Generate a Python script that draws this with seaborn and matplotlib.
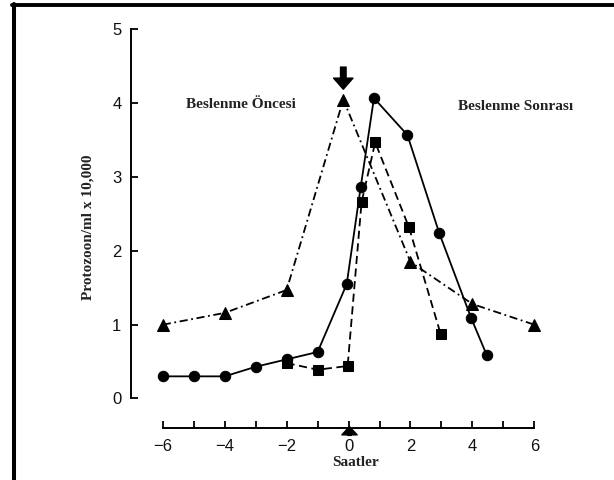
import pandas as pd
import matplotlib.pyplot as plt
from matplotlib.lines import Line2D
import seaborn as sns

# hours relative to feeding, protozoa per ml x 10,000
tri_x = [-6, -4, -2, -0.17, 2, 4, 6]
tri_y = [1.0, 1.16, 1.47, 4.05, 1.85, 1.28, 1.0]

circ_x = [-6, -5, -4, -3, -2, -1, -0.06, 0.39, 0.82, 1.9, 2.93, 3.96, 4.46]
circ_y = [0.3, 0.3, 0.3, 0.43, 0.53, 0.63, 1.55, 2.86, 4.07, 3.57, 2.24, 1.09, 0.59]

sq_x = [-2, -1, -0.03, 0.42, 0.86, 1.95, 2.97]
sq_y = [0.48, 0.39, 0.44, 2.66, 3.47, 2.32, 0.88]

x_ticks = list(range(-6, 7))
x_labels = ["\u22126", "", "\u22124", "", "\u22122", "", "0", "", "2", "", "4", "", "6"]
y_ticks = [0, 1, 2, 3, 4, 5]

label_pre = "Beslenme Öncesi"
label_post = "Beslenme Sonrası"
x_title = "Saatler"
y_title = "Protozoon/ml x 10,000"


def main():
    sns.set_style("white")
    plt.rcParams["font.family"] = ["Liberation Sans", "DejaVu Sans"]

    fig = plt.figure(figsize=(6.14, 4.8), dpi=100)
    ax = fig.add_axes([0.2137, 0.1083, 0.7322, 0.838])

    tri = pd.DataFrame({"x": tri_x, "y": tri_y})
    circ = pd.DataFrame({"x": circ_x, "y": circ_y})
    sq = pd.DataFrame({"x": sq_x, "y": sq_y})

    sns.lineplot(data=tri, x="x", y="y", ax=ax, sort=False, estimator=None,
                 color="black", lw=1.3, linestyle=(0, (4.5, 2, 1, 2)),
                 marker="^", ms=8.5, mec="black", mfc="black")
    sns.lineplot(data=sq, x="x", y="y", ax=ax, sort=False, estimator=None,
                 color="black", lw=1.3, linestyle=(0, (4.5, 2.5)),
                 marker="s", ms=7, mec="black", mfc="black")
    sns.lineplot(data=circ, x="x", y="y", ax=ax, sort=False, estimator=None,
                 color="black", lw=1.3, linestyle="-",
                 marker="o", ms=7.5, mec="black", mfc="black")

    ax.set_xlim(-7.02, 7.5)
    ax.set_ylim(-0.4, 5.05)
    ax.spines["top"].set_visible(False)
    ax.spines["right"].set_visible(False)
    ax.spines["left"].set_bounds(0, 5)
    ax.spines["bottom"].set_bounds(-6, 6)
    for s in ("left", "bottom"):
        ax.spines[s].set_linewidth(1.4)
        ax.spines[s].set_color("black")

    ax.set_xticks(x_ticks)
    ax.set_xticklabels(x_labels)
    ax.set_yticks(y_ticks)
    ax.tick_params(axis="both", which="major", bottom=True, left=True,
                   direction="in", length=5, width=1.3,
                   color="black", labelsize=12, labelcolor="#111111")
    ax.tick_params(axis="x", pad=8)
    ax.tick_params(axis="y", pad=7)

    serif = dict(family=["Liberation Serif", "DejaVu Serif"], weight="bold",
                 size=11, color="#222222")
    ax.set_xlabel(x_title, labelpad=1, **serif)
    ax.set_ylabel(y_title, labelpad=13, **serif)

    ax.text(-3.47, 3.98, label_pre, ha="center", va="center", **serif)
    ax.text(5.4, 3.95, label_post, ha="center", va="center", **serif)

    # feeding markers
    ax.annotate("", xy=(-0.17, 4.19), xytext=(-0.17, 4.49),
                arrowprops=dict(facecolor="black", edgecolor="black",
                                width=4, headwidth=14, headlength=8, shrink=0))
    ax.annotate("", xy=(0.03, -0.38), xytext=(0.03, -0.5), annotation_clip=False,
                arrowprops=dict(facecolor="black", edgecolor="black",
                                width=2.5, headwidth=11, headlength=6, shrink=0))

    # frame lines of the scanned page
    fig.add_artist(Line2D([0.019, 1.0], [0.9896, 0.9896], color="black",
                          lw=2.8, transform=fig.transFigure))
    fig.add_artist(Line2D([0.0223, 0.0223], [0.0, 0.9925], color="black",
                          lw=2.9, transform=fig.transFigure))

    fig.savefig("out.png", dpi=100)
    plt.close(fig)


if __name__ == "__main__":
    main()
